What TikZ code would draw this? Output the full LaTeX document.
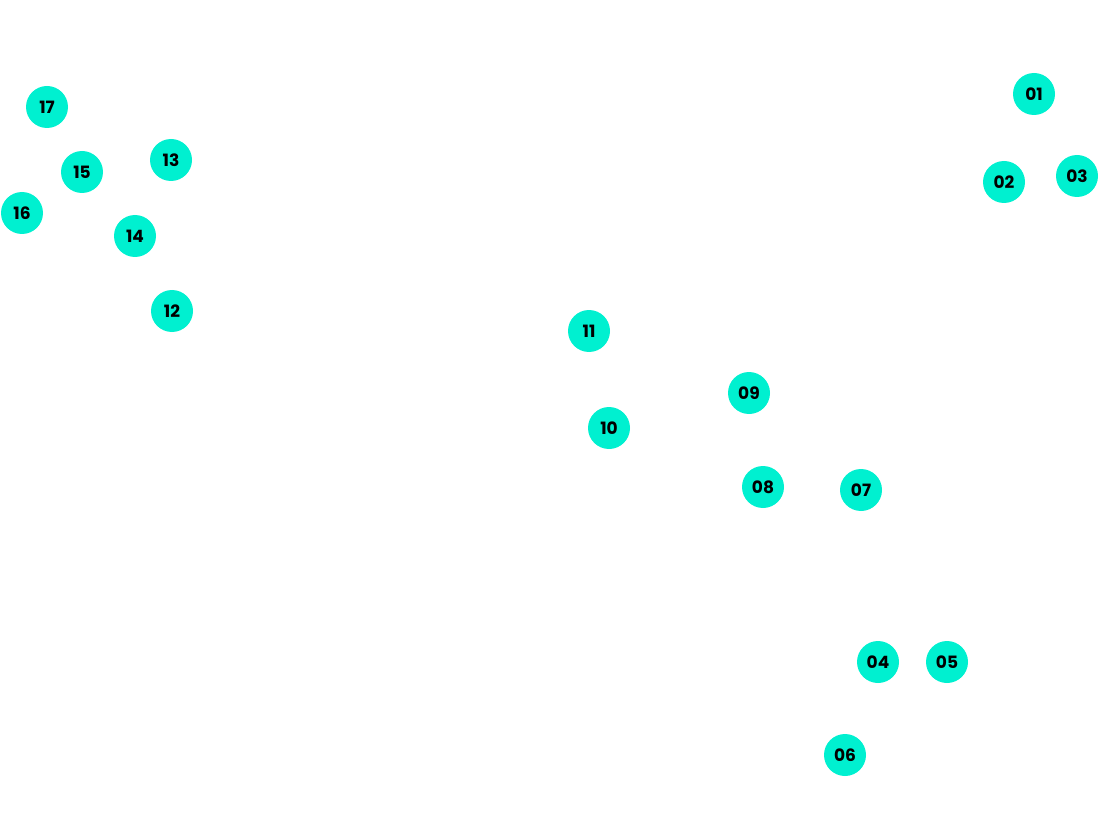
\documentclass[tikz,border=0pt]{standalone}
\usepackage{fontspec}
\setmainfont{Poppins}
\definecolor{dot}{RGB}{0,240,208}
\begin{document}
\begin{tikzpicture}[x=1pt,y=-1pt,
  pt/.style={circle,fill=dot,minimum size=42pt,inner sep=0pt,font=\fontsize{17}{17}\selectfont\bfseries}]
\useasboundingbox (0,0) rectangle (1100,818);
\node[pt] (n01) at (1034,94) {01};
\node[pt] (n02) at (1004,182) {02};
\node[pt] (n03) at (1077,176) {03};
\node[pt] (n04) at (878,662) {04};
\node[pt] (n05) at (947,662) {05};
\node[pt] (n06) at (845,755) {06};
\node[pt] (n07) at (861,490) {07};
\node[pt] (n08) at (763,487) {08};
\node[pt] (n09) at (749,393) {09};
\node[pt] (n10) at (609,428) {10};
\node[pt] (n11) at (589,331) {11};
\node[pt] (n12) at (172,311) {12};
\node[pt] (n13) at (171,160) {13};
\node[pt] (n14) at (135,236) {14};
\node[pt] (n15) at (82,172) {15};
\node[pt] (n16) at (22,213) {16};
\node[pt] (n17) at (47,107) {17};
\end{tikzpicture}
\end{document}
